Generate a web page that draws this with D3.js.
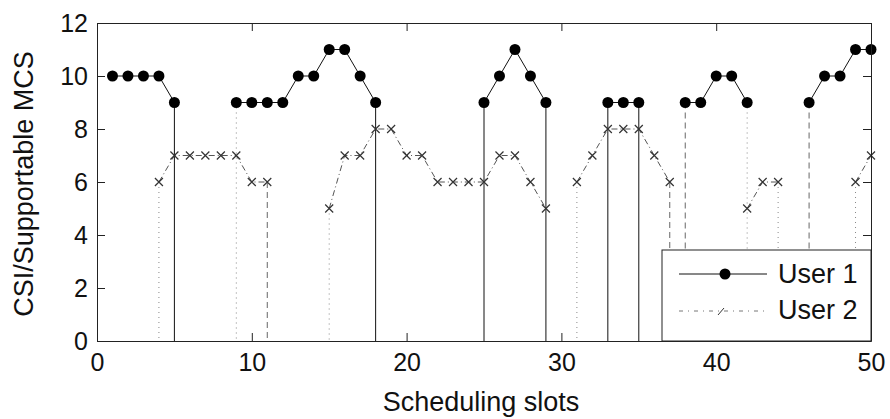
<!DOCTYPE html>
<html>
<head>
<meta charset="utf-8">
<script src="https://cdn.jsdelivr.net/npm/d3@7"></script>
<style>
  body { margin: 0; background: #fff; }
  text { font-family: Arial, 'Liberation Sans', sans-serif; fill: #111; }
</style>
</head>
<body>
<div id="chart"></div>
<script>
// slots 1..50, null where the user is not scheduled
var slots = d3.range(1, 51)
var user1 = [10, 10, 10, 10, 9, null, null, null,
  9, 9, 9, 9, 10, 10, 11, 11, 10, 9,
  null, null, null, null, null, null,
  9, 10, 11, 10, 9, null, null, null,
  9, 9, 9, null, null,
  9, 9, 10, 10, 9, null, null, null,
  9, 10, 10, 11, 11]
var user2 = [null, null, null, 6, 7, 7, 7, 7, 7, 6, 6,
  null, null, null,
  5, 7, 7, 8, 8, 7, 7, 6, 6, 6, 6, 7, 7, 6, 5,
  null,
  6, 7, 8, 8, 8, 7, 6,
  null, null, null, null,
  5, 6, 6,
  null, null, null, null,
  6, 7]

// drop lines to the axis, grouped by how they look
var dropSolid = [5, 18, 25, 29, 33, 35]
var dropDotted = [4, 9, 15, 31, 42, 44, 49]
var dropDashed = [11, 37, 38, 46]
// drops that hang from the user 2 point instead of user 1
var dropFromUser2 = [4, 11, 15, 31, 37, 44, 49]

var xTicks = [0, 10, 20, 30, 40, 50]
var yTicks = [0, 2, 4, 6, 8, 10, 12]
var seriesNames = ['User 1', 'User 2']

var margin = { top: 23, left: 97, right: 19, bottom: 78 }
var width = 890 - margin.left - margin.right
var height = 419 - margin.top - margin.bottom

var svg = d3.select('#chart')
  .append('svg')
  .attr('width', 890)
  .attr('height', 419)
  .append('g')
  .attr('transform', 'translate(' + margin.left + ',' + margin.top + ')')

var x = d3.scaleLinear().domain([0, 50]).range([0, width])
var y = d3.scaleLinear().domain([0, 12]).range([height, 0])

var rows = slots.map(function(s, i) {
  return { slot: s, u1: user1[i], u2: user2[i] }
})

function topAt(s) {
  var r = rows[s - 1]
  if (dropFromUser2.includes(s)) return r.u2
  return r.u1 != null ? r.u1 : r.u2
}

// drop lines first so the markers sit on top
function drops(list, stroke, dash, cls) {
  svg.selectAll('.' + cls)
    .data(list)
    .enter()
    .append('line')
    .attr('class', cls)
    .attr('x1', d => x(d))
    .attr('x2', d => x(d))
    .attr('y1', d => y(topAt(d)))
    .attr('y2', y(0))
    .attr('stroke', stroke)
    .attr('stroke-width', 1)
    .attr('stroke-dasharray', dash)
}
drops(dropSolid, '#111', null, 'drop-solid')
drops(dropDotted, '#888', '1,4', 'drop-dot')
drops(dropDashed, '#666', '6,4', 'drop-dash')

// user 2 : dash-dot line with x markers
var line2 = d3.line()
  .defined(d => d.u2 != null)
  .x(d => x(d.slot))
  .y(d => y(d.u2))

svg.append('path')
  .datum(rows)
  .attr('d', line2)
  .attr('fill', 'none')
  .attr('stroke', '#555')
  .attr('stroke-width', 1)
  .attr('stroke-dasharray', '6,3,1,3')

var cross = 4
svg.selectAll('.mark2')
  .data(rows.filter(d => d.u2 != null))
  .enter()
  .append('path')
  .attr('class', 'mark2')
  .attr('d', d => {
    var cx = x(d.slot), cy = y(d.u2)
    return 'M' + (cx - cross) + ',' + (cy - cross) + 'L' + (cx + cross) + ',' + (cy + cross) +
      'M' + (cx - cross) + ',' + (cy + cross) + 'L' + (cx + cross) + ',' + (cy - cross)
  })
  .attr('stroke', '#333')
  .attr('stroke-width', 1.2)
  .attr('fill', 'none')

// user 1 : solid line with filled dots
var line1 = d3.line()
  .defined(d => d.u1 != null)
  .x(d => x(d.slot))
  .y(d => y(d.u1))

svg.append('path')
  .datum(rows)
  .attr('d', line1)
  .attr('fill', 'none')
  .attr('stroke', '#111')
  .attr('stroke-width', 1)

svg.selectAll('.mark1')
  .data(rows.filter(d => d.u1 != null))
  .enter()
  .append('circle')
  .attr('class', 'mark1')
  .attr('cx', d => x(d.slot))
  .attr('cy', d => y(d.u1))
  .attr('r', 5.5)
  .attr('fill', '#000')

// axes, matlab style box with inward ticks
var tickLen = 8
var axBottom = svg.append('g')
  .attr('transform', 'translate(0,' + height + ')')
  .call(d3.axisBottom(x).tickValues(xTicks).tickSizeInner(-tickLen).tickSizeOuter(0).tickPadding(12))
var axLeft = svg.append('g')
  .call(d3.axisLeft(y).tickValues(yTicks).tickSizeInner(-tickLen).tickSizeOuter(0).tickPadding(9))
var axTop = svg.append('g')
  .call(d3.axisTop(x).tickValues(xTicks).tickSizeInner(-tickLen).tickSizeOuter(0).tickFormat(''))
var axRight = svg.append('g')
  .attr('transform', 'translate(' + width + ',0)')
  .call(d3.axisRight(y).tickValues(yTicks).tickSizeInner(-tickLen).tickSizeOuter(0).tickFormat(''))

;[axBottom, axLeft, axTop, axRight].forEach(function(g) {
  g.select('.domain').attr('stroke', '#222')
  g.selectAll('.tick line').attr('stroke', '#222')
  g.selectAll('text')
    .style('font-family', 'Arial, "Liberation Sans", sans-serif')
    .style('font-size', '25px')
    .attr('fill', '#111')
})
axBottom.selectAll('text').attr('dy', '0.71em')

// legend
var lg = svg.append('g')
  .attr('transform', 'translate(' + (x(50) - 209) + ',' + (y(0) - 91) + ')')

lg.append('rect')
  .attr('width', 209)
  .attr('height', 91)
  .attr('fill', '#fff')
  .attr('stroke', '#222')
  .attr('stroke-width', 1)

lg.append('line')
  .attr('x1', 17).attr('x2', 105)
  .attr('y1', 24).attr('y2', 24)
  .attr('stroke', '#111')
lg.append('circle')
  .attr('cx', 63).attr('cy', 24).attr('r', 5.5).attr('fill', '#000')

lg.append('line')
  .attr('x1', 17).attr('x2', 105)
  .attr('y1', 61).attr('y2', 61)
  .attr('stroke', '#777')
  .attr('stroke-dasharray', '4,5,1,5')
lg.append('path')
  .attr('d', 'M56,65L62,58')
  .attr('stroke', '#333')

lg.selectAll('.ltext')
  .data(seriesNames)
  .enter()
  .append('text')
  .attr('class', 'ltext')
  .attr('x', 116)
  .attr('y', (d, i) => 33 + i * 36)
  .style('font-size', '27px')
  .text(d => d)

// axis titles
svg.append('text')
  .attr('x', width / 2 - 3)
  .attr('y', height + 70)
  .attr('text-anchor', 'middle')
  .style('font-size', '27px')
  .text('Scheduling slots')

svg.append('text')
  .attr('transform', 'translate(' + (33 - margin.left) + ',' + (height / 2 + 2) + ') rotate(-90)')
  .attr('text-anchor', 'middle')
  .style('font-size', '27px')
  .text('CSI/Supportable MCS')
</script>
</body>
</html>
